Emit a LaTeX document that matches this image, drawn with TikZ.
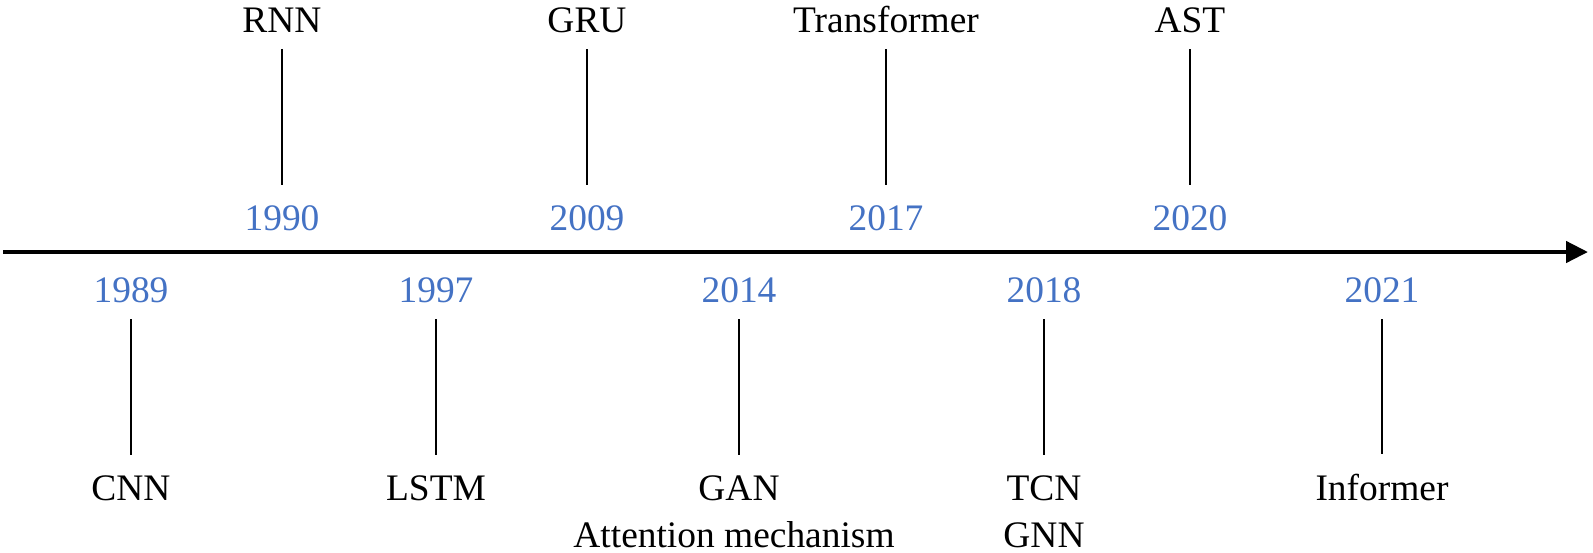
\documentclass[tikz,border=0pt]{standalone}
\usepackage{fontspec}
\setmainfont{Liberation Serif}
\usepackage{tikz}
\usetikzlibrary{arrows.meta}
\definecolor{yearblue}{HTML}{4472C4}

\begin{document}
\begin{tikzpicture}[x=0.02cm,y=-0.02cm]
\tikzstyle{model}=[inner sep=0pt,anchor=base,font=\fontsize{21.3}{26}\selectfont]
\tikzstyle{year}=[model,text=yearblue]
\tikzstyle{tick}=[line width=0.03cm,shorten <=0.33cm,shorten >=0.39cm]
\useasboundingbox (0,0) rectangle (1593,552);

% Time axis
\coordinate (T0) at (3,252);
\coordinate (T1) at (1588,252);
\draw[line width=0.09cm,-{Triangle[length=0.44cm,width=0.42cm]}] (T0) -- (T1);

% Models above the axis
\node (RNN) [model] at (282,32) {RNN};
\node (GRU) [model] at (587,32) {GRU};
\node (TRANS) [model] at (886,32) {Transformer};
\node (AST) [model] at (1190,32) {AST};

\node (Y1990) [year] at (282,230) {1990};
\node (Y2009) [year] at (587,230) {2009};
\node (Y2017) [year] at (886,230) {2017};
\node (Y2020) [year] at (1190,230) {2020};

% Models below the axis
\node (Y1989) [year] at (131,302) {1989};
\node (Y1997) [year] at (436,302) {1997};
\node (Y2014) [year] at (739,302) {2014};
\node (Y2018) [year] at (1044,302) {2018};
\node (Y2021) [year] at (1382,302) {2021};

\node (CNN) [model] at (131,500) {CNN};
\node (LSTM) [model] at (436,500) {LSTM};
\node (GAN) [model] at (739,500) {GAN};
\node (ATT) [model] at (734,547) {Attention mechanism};
\node (TCN) [model] at (1044,500) {TCN};
\node (GNN) [model] at (1044,547) {GNN};
\node (INF) [model] at (1382,500) {Informer};

\draw[tick] (RNN) -- (Y1990);
\draw[tick] (GRU) -- (Y2009);
\draw[tick] (TRANS) -- (Y2017);
\draw[tick] (AST) -- (Y2020);

\draw[tick] (Y1989) -- (CNN);
\draw[tick] (Y1997) -- (LSTM);
\draw[tick] (Y2014) -- (GAN);
\draw[tick] (Y2018) -- (TCN);
\draw[tick] (Y2021) -- (INF);

\end{tikzpicture}
\end{document}
